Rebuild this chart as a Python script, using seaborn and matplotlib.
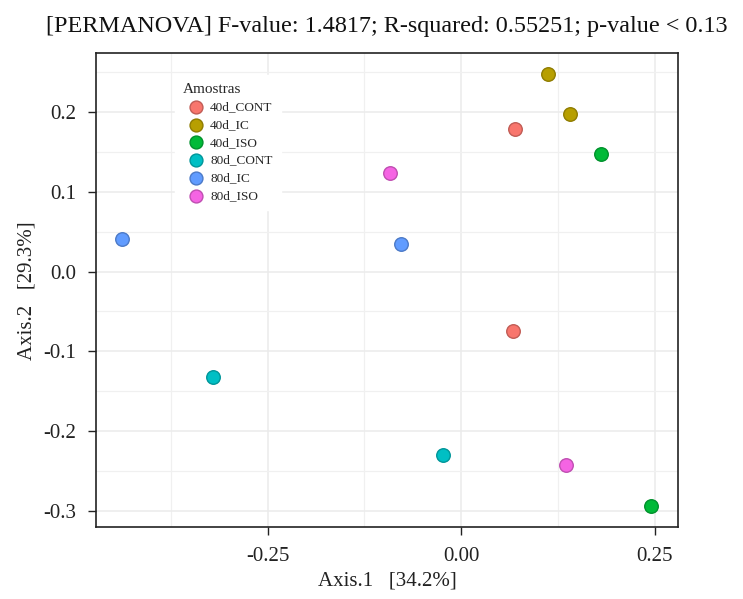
import matplotlib
matplotlib.use("Agg")
import matplotlib.pyplot as plt
import seaborn as sns
import pandas as pd
import numpy as np
from matplotlib.colors import to_rgb

groups = ["40d_CONT", "40d_CONT", "40d_IC", "40d_IC", "40d_ISO", "40d_ISO",
          "80d_CONT", "80d_CONT", "80d_IC", "80d_IC", "80d_ISO", "80d_ISO"]
axis1 = [0.0693, 0.0668, 0.1115, 0.140, 0.1805, 0.2451,
         -0.320, -0.0237, -0.4376, -0.0779, -0.0917, 0.1357]
axis2 = [0.1795, -0.0744, 0.2478, 0.198, 0.148, -0.294,
         -0.1326, -0.2297, 0.041, 0.0348, 0.1243, -0.2432]
categories = ["40d_CONT", "40d_IC", "40d_ISO", "80d_CONT", "80d_IC", "80d_ISO"]
colors = ["#F8766D", "#B79F00", "#00BA38", "#00BFC4", "#619CFF", "#F564E3"]
title = "[PERMANOVA] F-value: 1.4817; R-squared: 0.55251; p-value < 0.13"
xlabel = "Axis.1   [34.2%]"
ylabel = "Axis.2   [29.3%]"

df = pd.DataFrame({"Axis.1": axis1, "Axis.2": axis2, "Amostras": groups})

sns.set_theme(style="white")
plt.rcParams["font.family"] = ["Liberation Serif", "DejaVu Serif"]

fig = plt.figure(figsize=(7.43, 5.99), dpi=100)
ax = fig.add_axes([0.1292, 0.1197, 0.9125 - 0.1292, 0.911 - 0.1197])

def darker(c, f=0.78):
    r, g, b = to_rgb(c)
    return (r * f, g * f, b * f)

for cat, col in zip(categories, colors):
    sub = df[df["Amostras"] == cat]
    sns.scatterplot(data=sub, x="Axis.1", y="Axis.2", color=col, s=95,
                    edgecolor=darker(col), linewidth=1.0, ax=ax, label=cat,
                    zorder=3, legend=True)

ax.set_xlim(-0.4716, 0.280)
ax.set_ylim(-0.321, 0.274)
ax.set_xticks([-0.25, 0.0, 0.25])
ax.set_xticklabels(["-0.25", "0.00", "0.25"])
ax.set_yticks([-0.3, -0.2, -0.1, 0.0, 0.1, 0.2])
ax.set_yticklabels(["-0.3", "-0.2", "-0.1", "0.0", "0.1", "0.2"])
ax.set_xticks([-0.375, -0.125, 0.125], minor=True)
ax.set_yticks([-0.25, -0.15, -0.05, 0.05, 0.15, 0.25], minor=True)
ax.grid(True, which="major", color="#ebebeb", linewidth=1.1, zorder=0)
ax.grid(True, which="minor", color="#f0f0f0", linewidth=0.9, zorder=0)
ax.set_axisbelow(True)
ax.tick_params(axis="both", which="major", direction="out", length=5.8, width=1.0,
               color="#222222", labelsize=15, labelcolor="#222222", pad=8.5,
               bottom=True, left=True)
ax.tick_params(axis="both", which="minor", length=0)
for sp in ax.spines.values():
    sp.set_color("#222222")
    sp.set_linewidth(1.2)

ax.set_xlabel(xlabel, fontsize=15, color="#222222", labelpad=4)
ax.set_ylabel(ylabel, fontsize=15, color="#222222", labelpad=5)
ax.set_title(title, fontsize=17.4, color="#111111", pad=15)

leg = ax.legend(title="Amostras", loc="upper left", bbox_to_anchor=(0.1237, 0.969),
                frameon=True, fancybox=False, fontsize=9.5, title_fontsize=11,
                handletextpad=0.1, labelspacing=0.42, borderpad=0.6,
                markerscale=0.95)
leg.get_frame().set_facecolor("white")
leg.get_frame().set_edgecolor("white")
leg.get_frame().set_alpha(1.0)
leg._legend_box.align = "left"

fig.savefig("out.png", dpi=100)
